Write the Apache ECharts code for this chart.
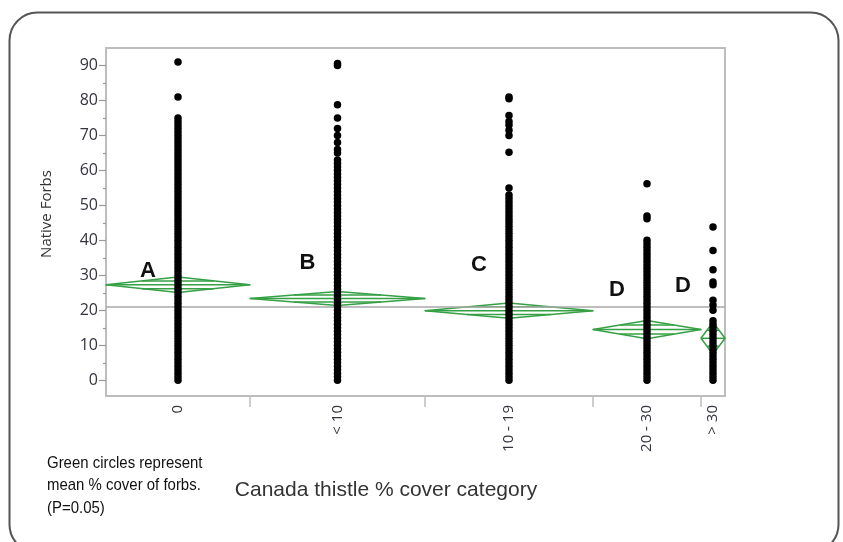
<!DOCTYPE html>
<html>
<head>
<meta charset="utf-8">
<script src="https://cdn.jsdelivr.net/npm/echarts@6/dist/echarts.min.js"></script>
<style>
html,body{margin:0;padding:0;background:#fff;}
#chart{width:843px;height:542px;}
</style>
</head>
<body>
<div id="chart"></div>
<script>
// ---- data ----
const categories = ['0', '< 10', '10 - 19', '20 - 30', '> 30'];
// relative group sizes (column widths in the JMP means-diamond plot)
const groupShare = [144, 175, 168, 108, 24];
const meanValues = [27.3, 23.4, 19.9, 14.5, 12.0];
const ciHalf = [2.2, 2.0, 2.2, 2.6, 4.6];
const letters = ['A', 'B', 'C', 'D', 'D'];
const letterLevel = [31.4, 33.5, 33.1, 25.9, 27.1];
const grandMean = 20.9;
const yTickValues = [0, 10, 20, 30, 40, 50, 60, 70, 80, 90];
const yMinorTickValues = [5, 15, 25, 35, 45, 55, 65, 75, 85];

const forbs0 = [0,1,2,3,4,5,6,7,8,9,10,11,12,13,14,15,16,17,18,19,20,21,22,23,24,25,26,27,28,29,30,31,32,33,34,35,36,37,38,39,40,41,42,43,44,45,46,47,48,49,50,51,52,53,54,55,56,57,58,59,60,61,62,63,64,65,66,67,68,69,70,71,72,73,74,75,81,91];
const forbsLt10 = [0,1,2,3,4,5,6,7,8,9,10,11,12,13,14,15,16,17,18,19,20,21,22,23,24,25,26,27,28,29,30,31,32,33,34,35,36,37,38,39,40,41,42,43,44,45,46,47,48,49,50,51,52,53,54,55,56,57,58,59,60,61,62,63,65,66,68,70,72,75,78.8,90,90.6];
const forbs10to19 = [0,1,2,3,4,5,6,7,8,9,10,11,12,13,14,15,16,17,18,19,20,21,22,23,24,25,26,27,28,29,30,31,32,33,34,35,36,37,38,39,40,41,42,43,44,45,46,47,48,49,50,51,52,53,55,65.2,70,71.5,73,74,75.7,80.5,81];
const forbs20to30 = [0,1,2,3,4,5,6,7,8,9,10,11,12,13,14,15,16,17,18,19,20,21,22,23,24,25,26,27,28,29,30,31,32,33,34,35,36,37,38,39,40,46.2,47,56.2];
const forbsGt30 = [0,1,2,3,4,5,6,7,8,9,10,11,12,13,14,15,16,17,20,21.5,22.9,27.3,28.1,31.6,37.1,43.8];
const groupValues = [forbs0, forbsLt10, forbs10to19, forbs20to30, forbsGt30];

// ---- derived positions on the x value scale ----
const starts = [];
let acc = 0;
groupShare.forEach(w => { starts.push(acc); acc += w; });
const total = acc;
const ends = starts.map((s, i) => s + groupShare[i]);
const centers = starts.map((s, i) => s + groupShare[i] / 2);
const boundaries = ends.slice(0, -1);

const pointData = [];
groupValues.forEach((vals, i) => vals.forEach(v => pointData.push([centers[i], v])));

const diamondData = categories.map((c, i) => [centers[i], meanValues[i], starts[i], ends[i], ciHalf[i]]);
const letterData = categories.map((c, i) => [centers[i], letterLevel[i], i]);

const GREEN = '#35a044';

function renderDiamond(params, api) {
  const c = api.value(0), m = api.value(1), s = api.value(2), e = api.value(3), h = api.value(4);
  const L = api.coord([s, m]), R = api.coord([e, m]);
  const T = api.coord([c, m + h]), B = api.coord([c, m - h]);
  const f = 0.5;
  const oT = api.coord([c, m + f * h]), oB = api.coord([c, m - f * h]);
  const hw = (R[0] - L[0]) / 2 * (1 - f);
  const st = { stroke: GREEN, lineWidth: 1.5, fill: null, lineJoin: 'round' };
  return {
    type: 'group',
    children: [
      { type: 'polygon', shape: { points: [L, T, R, B] }, style: st },
      { type: 'line', shape: { x1: L[0], y1: L[1], x2: R[0], y2: R[1] }, style: st },
      { type: 'line', shape: { x1: oT[0] - hw, y1: oT[1], x2: oT[0] + hw, y2: oT[1] }, style: st },
      { type: 'line', shape: { x1: oB[0] - hw, y1: oB[1], x2: oB[0] + hw, y2: oB[1] }, style: st }
    ]
  };
}

function renderLetter(params, api) {
  const p = api.coord([api.value(0), api.value(1)]);
  return {
    type: 'text',
    x: p[0] - 30,
    y: p[1],
    style: {
      text: letters[api.value(2)],
      font: 'bold 22px "Liberation Sans", Arial, sans-serif',
      fill: '#111',
      align: 'center',
      verticalAlign: 'middle'
    }
  };
}

const chart = echarts.init(document.getElementById('chart'), null, { renderer: 'canvas' });

const option = {
  backgroundColor: '#fff',
  animation: false,
  grid: {
    left: 106, right: 118, top: 48, bottom: 146,
    show: true, borderColor: '#bdbdbd', borderWidth: 2, backgroundColor: 'transparent'
  },
  xAxis: {
    type: 'value', min: 0, max: total,
    axisLine: { show: false, onZero: false },
    splitLine: { show: false },
    axisTick: { show: true, customValues: boundaries, length: 11, lineStyle: { color: '#bdbdbd', width: 1.5 } },
    axisLabel: {
      show: true, customValues: centers, rotate: 90, margin: 9,
      fontFamily: '"Open Sans", sans-serif', fontSize: 15, color: '#34343e',
      formatter: v => {
        const i = centers.findIndex(c => Math.abs(c - v) < 0.01);
        return i >= 0 ? categories[i] : '';
      }
    }
  },
  yAxis: [
    {
      type: 'value', min: -4.5, max: 95,
      axisLine: { show: false, onZero: false },
      splitLine: { show: false },
      axisTick: { show: true, customValues: yTickValues, length: 7, lineStyle: { color: '#9a9a9a', width: 1.2 } },
      axisLabel: {
        customValues: yTickValues, margin: 8,
        fontFamily: '"Open Sans", sans-serif', fontSize: 16, color: '#34343e'
      }
    },
    {
      type: 'value', min: -4.5, max: 95, position: 'left',
      axisLine: { show: false, onZero: false },
      splitLine: { show: false },
      axisTick: { show: true, customValues: yMinorTickValues, length: 3, lineStyle: { color: '#9a9a9a', width: 1.2 } },
      axisLabel: { show: false }
    }
  ],
  graphic: [
    {
      type: 'rect', left: 7, top: 10, silent: true, z: 100,
      shape: { width: 829, height: 540, r: 28 },
      style: { fill: null, stroke: '#555', lineWidth: 2 }
    },
    {
      type: 'text', x: 47, y: 214, rotation: Math.PI / 2, silent: true,
      style: {
        text: 'Native Forbs', font: '15px "Open Sans", sans-serif', fill: '#333',
        align: 'center', verticalAlign: 'middle'
      }
    },
    {
      type: 'text', x: 386, y: 490, silent: true,
      style: {
        text: 'Canada thistle % cover category', font: '21px "Liberation Sans", Arial, sans-serif', fill: '#333',
        align: 'center', verticalAlign: 'middle'
      }
    },
    {
      type: 'text', x: 47, y: 452, scaleX: 0.88, silent: true,
      style: {
        text: 'Green circles represent\nmean % cover of forbs.\n(P=0.05)',
        font: '17px "Liberation Sans", Arial, sans-serif',
        lineHeight: 22.5, fill: '#111', align: 'left', verticalAlign: 'top'
      }
    }
  ],
  series: [
    {
      type: 'custom', name: 'diamonds', renderItem: renderDiamond, data: diamondData, z: 2, silent: true,
      markLine: {
        silent: true, symbol: ['none', 'none'], label: { show: false },
        lineStyle: { color: '#a8a8a8', width: 1.5, type: 'solid' },
        data: [{ yAxis: grandMean }]
      }
    },
    {
      type: 'scatter', name: 'points', data: pointData, symbol: 'circle', symbolSize: 7.5,
      itemStyle: { color: '#000', opacity: 1 }, z: 5, silent: true
    },
    {
      type: 'custom', name: 'letters', renderItem: renderLetter, data: letterData, z: 6, silent: true
    }
  ]
};
chart.setOption(option);
</script>
</body>
</html>
